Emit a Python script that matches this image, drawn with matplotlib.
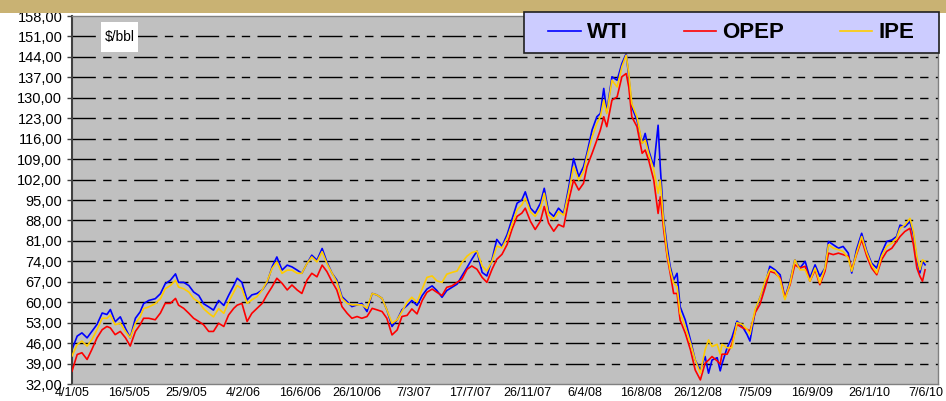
import numpy as np
import matplotlib
matplotlib.use("Agg")
import matplotlib.pyplot as plt
from matplotlib.patches import Rectangle
from matplotlib.ticker import FuncFormatter

plt.rcParams["font.family"] = ["Liberation Sans", "DejaVu Sans"]

# sample positions, in days since 4/1/05
DAYS = [
    0, 12, 23, 35, 46, 58, 70, 81, 89, 100, 112, 124, 135, 147, 158, 166, 178, 193,
    205, 216, 228, 240, 247, 259, 271, 282, 294, 305, 317, 328, 340, 352, 363, 375, 383, 394,
    406, 417, 429, 441, 452, 464, 475, 487, 499, 510, 522, 533, 545, 556, 568, 580,
    591, 603, 614, 626, 638, 649, 661, 672, 684, 696, 707, 719, 730, 742, 754, 765,
    777, 788, 800, 812, 823, 835, 846, 858, 869, 881, 893, 904, 916, 927, 939, 951,
    962, 974, 985, 997, 1009, 1020, 1032, 1043, 1051, 1063, 1074, 1086, 1095, 1105, 1117, 1128,
    1140, 1152, 1163, 1175, 1186, 1194, 1206, 1217, 1225, 1233, 1240, 1252, 1264, 1275,
    1285, 1291, 1298, 1310, 1322, 1329, 1337, 1349, 1359, 1364, 1372, 1380, 1387, 1395,
    1403, 1410, 1422, 1434, 1445, 1457, 1468, 1476, 1484,
    1496, 1503, 1507, 1519, 1530, 1542, 1554, 1565, 1572, 1584, 1595, 1607, 1618, 1630,
    1642, 1653, 1665, 1676, 1688, 1700, 1711, 1723, 1734, 1746, 1754, 1765, 1777, 1788,
    1800, 1808, 1819, 1831, 1843,
    1854, 1866, 1877, 1889, 1901, 1912, 1920, 1931, 1943, 1951, 1959, 1966, 1972, 1978,
]

WTI = [
    43.8, 48.4, 49.5, 47.8, 50.0, 52.4, 56.3, 55.8, 57.5, 53.3, 55.0, 51.0, 47.8, 54.5, 56.7, 59.5, 60.6, 61.2,
    62.9, 66.3, 67.5, 69.7, 66.8, 66.8, 65.7, 63.5, 62.3, 59.5, 58.4, 57.3, 60.6, 58.9, 62.3, 65.7, 68.2, 66.8,
    60.8, 62.5, 63.0, 64.2, 66.5, 72.1, 75.5, 71.0, 72.7, 72.1, 71.0, 69.9, 73.3, 76.1, 74.4, 78.4,
    73.8, 69.9, 67.6, 61.9, 60.2, 58.5, 59.1, 59.6, 56.8, 63.0, 62.5, 61.3, 57.4, 51.7, 54.0, 57.4,
    58.9, 60.6, 58.9, 62.3, 64.5, 65.6, 64.0, 61.7, 64.0, 65.1, 66.2, 69.0, 71.9, 74.7, 77.5, 70.2,
    69.0, 74.7, 81.5, 79.2, 83.2, 88.3, 93.9, 95.0, 97.8, 92.2, 90.5, 93.9, 99.0, 91.0, 89.4, 92.2,
    90.4, 99.5, 109.2, 103.0, 106.4, 111.0, 119.0, 123.5, 124.6, 133.2, 125.2, 137.2, 136.0, 141.7,
    145.1, 137.2, 126.9, 122.3, 114.4, 117.8, 112.1, 106.4, 120.6, 106.4, 88.1, 79.0, 72.2, 67.6,
    69.9, 58.5, 53.9, 47.1, 40.2, 36.8, 41.4, 35.7, 40.2,
    41.0, 36.5, 38.8, 44.4, 47.8, 53.5, 51.8, 49.0, 46.7, 56.9, 61.5, 66.0, 72.3, 71.1,
    69.4, 61.5, 67.2, 74.5, 71.7, 74.0, 68.3, 72.8, 68.9, 71.7, 80.8, 79.7, 78.5, 79.1,
    76.8, 70.0, 78.0, 83.6, 77.4,
    73.4, 71.7, 76.8, 80.8, 81.3, 82.5, 86.4, 85.8, 87.6, 83.0, 74.5, 70.0, 74.0, 72.8,
]

OPEP = [
    36.4, 42.1, 42.7, 40.4, 43.8, 47.8, 50.6, 51.7, 51.2, 48.9, 50.0, 47.8, 45.0, 50.0, 52.3, 54.5, 54.5, 54.0,
    56.3, 59.6, 59.6, 61.3, 59.0, 57.9, 56.2, 54.5, 53.4, 52.3, 50.0, 50.0, 52.8, 51.7, 55.6, 57.9, 59.0, 59.6,
    53.4, 56.2, 57.9, 59.6, 62.5, 65.3, 68.2, 66.5, 64.2, 65.9, 64.2, 63.0, 67.6, 69.9, 68.7, 72.7,
    70.5, 67.0, 64.2, 58.5, 56.2, 54.5, 55.1, 54.5, 55.1, 57.9, 57.4, 56.8, 54.5, 48.8, 50.5, 55.1,
    55.5, 57.7, 56.0, 60.6, 63.4, 64.5, 63.4, 62.3, 65.1, 65.6, 66.8, 67.9, 71.3, 72.4, 71.3, 68.5,
    66.8, 71.3, 74.7, 76.4, 79.8, 84.9, 89.4, 90.5, 92.2, 87.7, 84.9, 87.7, 92.8, 87.1, 84.3, 86.6,
    85.8, 95.0, 101.8, 98.4, 100.7, 106.4, 111.0, 115.5, 118.9, 123.5, 120.1, 129.2, 130.3, 137.2,
    138.3, 133.7, 123.5, 120.1, 111.0, 112.1, 108.7, 101.8, 90.4, 96.1, 84.7, 75.6, 69.9, 63.0,
    63.0, 53.9, 49.4, 43.7, 36.8, 33.4, 39.1, 40.2, 41.4,
    39.9, 38.8, 42.2, 42.2, 45.6, 52.4, 51.3, 50.7, 50.1, 56.4, 59.2, 64.9, 70.6, 70.0,
    68.3, 61.5, 66.0, 72.8, 71.7, 72.3, 67.2, 71.1, 66.0, 70.6, 76.8, 76.3, 76.8, 76.3,
    75.7, 71.1, 76.3, 81.4, 75.7,
    71.7, 69.4, 74.5, 77.4, 78.5, 80.8, 82.5, 84.2, 85.3, 79.7, 71.7, 68.9, 67.2, 71.1,
]

IPE = [
    41.6, 45.5, 46.7, 45.0, 47.2, 50.6, 54.5, 54.5, 55.6, 52.3, 52.8, 50.0, 47.8, 52.8, 55.0, 57.8, 58.4, 59.5,
    61.2, 64.6, 65.7, 67.5, 65.2, 64.6, 63.5, 61.2, 60.1, 57.8, 56.2, 55.0, 57.8, 56.2, 60.1, 63.5, 65.7, 64.6,
    59.6, 60.8, 61.9, 64.2, 67.0, 71.6, 73.8, 69.9, 71.0, 71.0, 69.9, 69.9, 73.3, 75.5, 73.8, 77.3,
    73.3, 69.9, 67.0, 61.3, 59.6, 59.1, 59.1, 59.1, 57.9, 63.0, 62.5, 61.3, 57.4, 52.8, 54.0, 56.8,
    60.0, 61.7, 60.0, 64.5, 68.5, 69.0, 67.3, 66.8, 69.6, 70.2, 70.7, 73.6, 75.8, 77.0, 77.5, 72.4,
    70.7, 74.1, 79.2, 78.6, 82.0, 86.6, 91.6, 93.3, 95.6, 91.0, 89.4, 92.2, 97.3, 89.9, 88.3, 91.0,
    89.8, 97.8, 106.4, 101.8, 104.7, 109.8, 116.6, 121.2, 123.5, 129.2, 124.6, 136.0, 133.7, 140.6,
    144.6, 138.3, 128.0, 123.5, 114.4, 115.5, 111.0, 105.3, 97.3, 101.8, 87.0, 76.7, 71.0, 66.5,
    65.3, 56.2, 51.6, 46.0, 40.2, 35.7, 43.7, 47.1, 44.8,
    45.6, 42.2, 45.6, 44.4, 44.4, 53.0, 52.4, 50.7, 49.0, 57.5, 61.5, 67.2, 71.1, 70.6,
    67.7, 60.9, 66.6, 74.5, 71.1, 71.1, 67.2, 71.7, 66.6, 71.7, 79.7, 78.5, 78.0, 77.4,
    75.1, 70.6, 76.8, 82.5, 76.8,
    72.8, 70.0, 75.7, 79.1, 80.2, 81.9, 85.3, 86.4, 88.7, 84.2, 75.7, 71.1, 74.5, 73.9,
]

X_TICK_DAYS = [0, 132, 264, 396, 528, 660, 792, 924, 1056, 1188, 1320, 1452, 1584, 1716, 1848, 1980]
X_TICK_LABELS = ["4/1/05", "16/5/05", "25/9/05", "4/2/06", "16/6/06", "26/10/06", "7/3/07",
                 "17/7/07", "26/11/07", "6/4/08", "16/8/08", "26/12/08", "7/5/09", "16/9/09",
                 "26/1/10", "7/6/10"]
Y_TICKS = list(range(32, 159, 7))

W, H = 946, 401
fig = plt.figure(figsize=(W / 100, H / 100), dpi=100)

# gold band at the very top
fig.patches.append(Rectangle((0, 1 - 12.5 / H), 1, 12.5 / H, transform=fig.transFigure,
                             facecolor="#C9B273", edgecolor="none", zorder=0))

ax = fig.add_axes([72 / W, 17 / H, 866 / W, 368 / H])
ax.set_facecolor("#C0C0C0")

dash = (0, (16.8, 5.3, 6, 5, 6, 5.3))
for v in Y_TICKS[1:-1]:
    ax.axhline(v, color="black", lw=1.0, ls=dash, zorder=1)

ax.plot(DAYS, WTI, color="#0000FF", lw=1.2, label="WTI", zorder=2)
ax.plot(DAYS, OPEP, color="#FF0000", lw=1.2, label="OPEP", zorder=3)
ax.plot(DAYS, IPE, color="#FFCC00", lw=1.2, label="IPE", zorder=4)

ax.set_xlim(0, 2008)
ax.set_ylim(32, 158)
ax.set_yticks(Y_TICKS)
ax.yaxis.set_major_formatter(FuncFormatter(lambda v, p: f"{v:.2f}".replace(".", ",")))
ax.set_xticks(X_TICK_DAYS)
ax.set_xticklabels(X_TICK_LABELS)
ax.tick_params(axis="y", direction="out", length=3.6, width=1.0, color="#404040",
               pad=3.4, labelsize=10.5)
ax.tick_params(axis="x", length=0, pad=2.5, labelsize=9)

for s in ["top", "right", "bottom"]:
    ax.spines[s].set_color("#808080")
    ax.spines[s].set_linewidth(1.0)
ax.spines["left"].set_color("#404040")
ax.spines["left"].set_linewidth(1.5)

# "$/bbl" unit box
fig.patches.append(Rectangle((101 / W, 1 - 51.5 / H), 37 / W, 30 / H, transform=fig.transFigure,
                             facecolor="white", edgecolor="none", zorder=3))
fig.text(119.5 / W, 1 - 36.5 / H, "$/bbl", ha="center", va="center", fontsize=10, zorder=4)

# legend box
fig.patches.append(Rectangle((524 / W, 1 - 53 / H), 415 / W, 41 / H, transform=fig.transFigure,
                             facecolor="#CCCCFF", edgecolor="#202020", lw=1.2, zorder=5))
handles, labels = ax.get_legend_handles_labels()
leg = fig.legend(handles, labels, loc="center", bbox_to_anchor=(731.5 / W, 1 - 33 / H), ncol=3,
                 frameon=False, prop={"weight": "bold", "size": 16}, handlelength=1.45,
                 handletextpad=0.3, columnspacing=2.5, borderpad=0)
leg.set_zorder(6)

fig.savefig("out.png", dpi=100)
